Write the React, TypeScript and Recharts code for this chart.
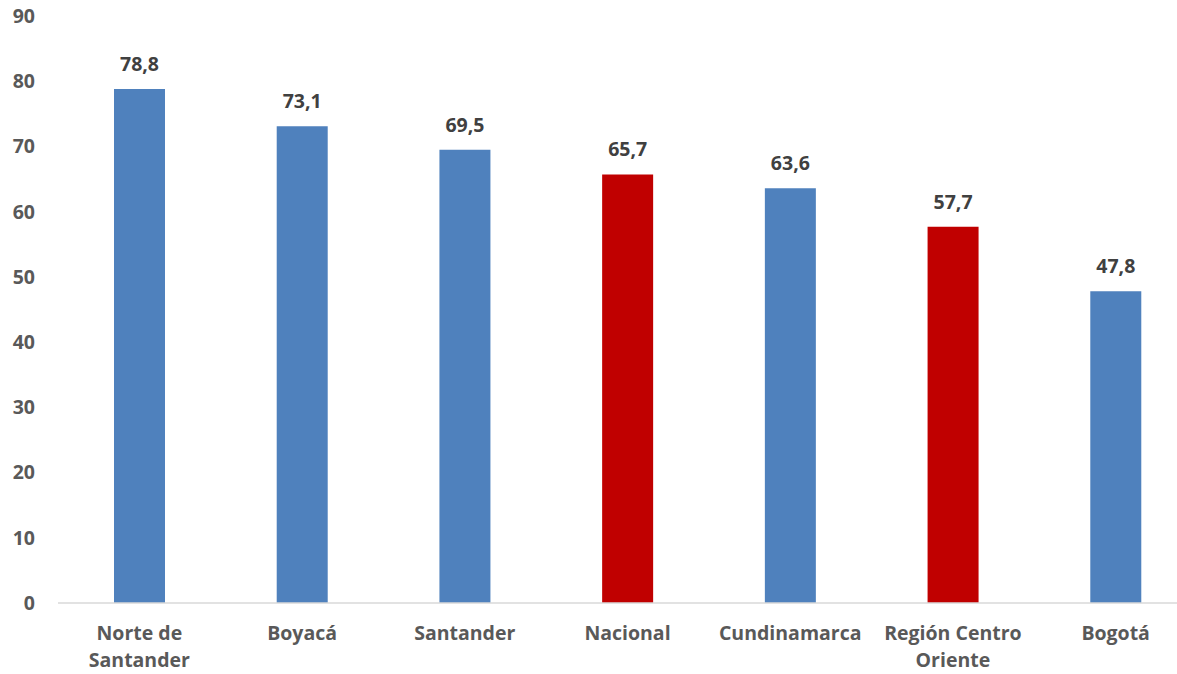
import React from 'react';
import { Bar, BarChart, Cell, LabelList, XAxis, YAxis } from 'recharts';

const categories = ['Norte de Santander', 'Boyacá', 'Santander', 'Nacional', 'Cundinamarca', 'Región Centro Oriente', 'Bogotá'];
const values = [78.8, 73.1, 69.5, 65.7, 63.6, 57.7, 47.8];
const highlighted = ['Nacional', 'Región Centro Oriente'];
const yTicks = [0, 10, 20, 30, 40, 50, 60, 70, 80, 90];

const labelLines: Record<string, string[]> = {
    'Norte de Santander': ['Norte de', 'Santander'],
    'Región Centro Oriente': ['Región Centro', 'Oriente'],
};

const data = categories.map((name, i) => ({ name, value: values[i] }));

const FONT = '"Open Sans", "Liberation Sans", sans-serif';

const CategoryTick = ({ x, y, payload }: any) => {
    const lines = labelLines[payload.value] || [payload.value];
    return (
        <text x={x} y={y} textAnchor="middle" fill="#595959" fontFamily={FONT} fontWeight={700} fontSize={19.5}>
            {lines.map((line, i) => (
                <tspan key={i} x={x} dy={i === 0 ? 29 : 27}>
                    {line}
                </tspan>
            ))}
        </text>
    );
};

export default function App() {
    return (
        <div style={{ position: 'absolute', left: 0, top: 0, width: 1177, height: 674, overflow: 'hidden', background: '#fff' }}>
            <BarChart width={1197} height={674} data={data} margin={{ top: 16, right: 0, bottom: 0, left: 0 }}>
                <XAxis
                    dataKey="name"
                    height={71}
                    tickLine={false}
                    axisLine={{ stroke: '#d9d9d9', strokeWidth: 1.5 }}
                    tick={<CategoryTick />}
                    interval={0}
                />
                <YAxis
                    width={58}
                    domain={[0, 90]}
                    ticks={yTicks}
                    tickLine={false}
                    axisLine={false}
                    tickMargin={17}
                    tick={{ fill: '#595959', fontFamily: FONT, fontWeight: 700, fontSize: 19.5 }}
                />
                <Bar dataKey="value" barSize={51} isAnimationActive={false}>
                    {data.map((entry, index) => (
                        <Cell key={`cell-${index}`} fill={highlighted.includes(entry.name) ? '#c00000' : '#4f81bd'} />
                    ))}
                    <LabelList
                        dataKey="value"
                        position="top"
                        offset={18}
                        formatter={(v: any) => String(v.toFixed(1)).replace('.', ',')}
                        style={{ fill: '#404040', fontFamily: FONT, fontWeight: 700, fontSize: 19.5 }}
                    />
                </Bar>
            </BarChart>
        </div>
    );
}
